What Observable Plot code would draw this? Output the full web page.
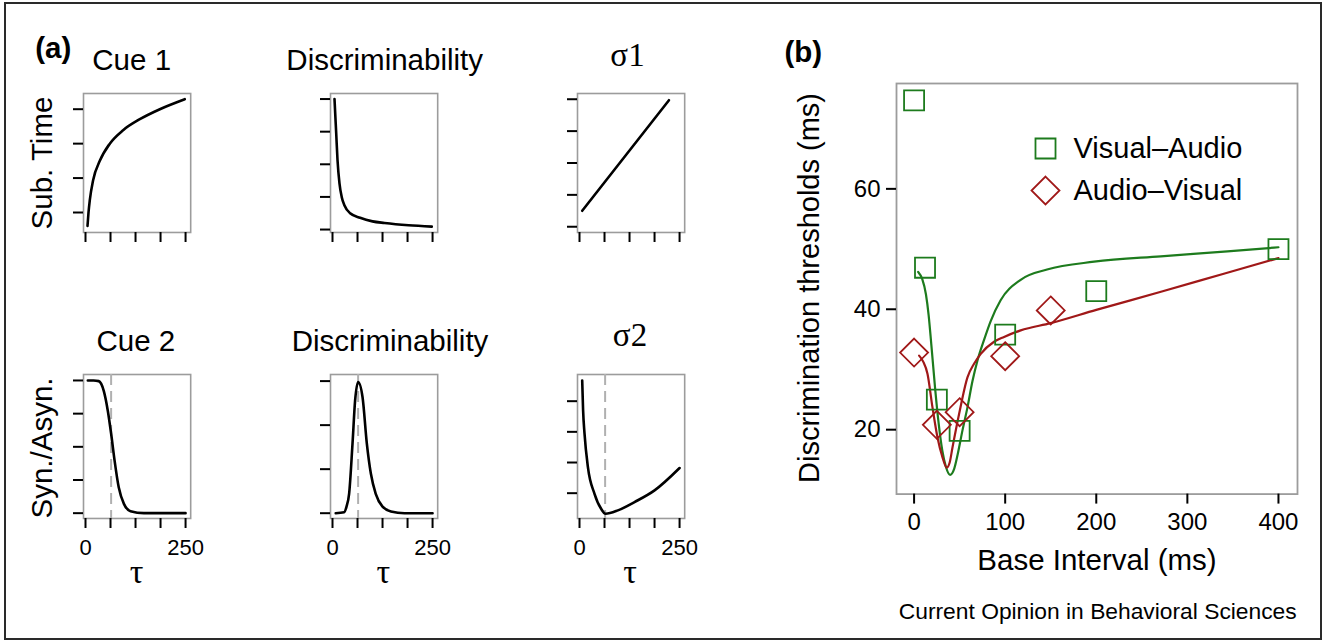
<!DOCTYPE html>
<html>
<head>
<meta charset="utf-8">
<script src="https://cdn.jsdelivr.net/npm/d3@7"></script>
<script src="https://cdn.jsdelivr.net/npm/@observablehq/plot@0.6"></script>
<style>
  body { margin: 0; background: #fff; }
  #fig { position: relative; width: 1330px; height: 641px; overflow: hidden; background: #fff;
         font-family: "Liberation Sans", Arial, Helvetica, sans-serif; color: #000; }
  .lbl { position: absolute; white-space: nowrap; line-height: 1; }
  #border { position: absolute; left: 4px; top: 2px; width: 1318px; height: 638px; box-sizing: border-box;
            border: 2px solid #2a2a2a; }
</style>
</head>
<body>
<div id="fig"><div id="border"></div></div>
<script>
// ---------------- DATA ----------------
// Panel (a): x axis (tau) ticks shared by all six small panels
const tauTicks = [0, 62.5, 125, 187.5, 250];
const tauTickLabels = ["0", "", "", "", "250"];
const tauStar = [64]; // dashed reference line in the bottom row

// Cue 1 : subjective time
const cue1Tau = [5, 7.5, 10.75, 19, 35.75, 60.75, 94, 135.75, 185.75, 248];
const cue1Val = [0.61, 1.0, 1.36, 1.94, 2.5, 3.0, 3.39, 3.71, 4.0, 4.29];
const cue1Ticks = [1, 2, 3, 4];

// Discriminability (top)
const disc1Tau = [5, 7, 9.25, 12.5, 17.5, 23, 30, 44, 69, 100, 130, 190, 248];
const disc1Val = [4.0, 3.5, 2.95, 2.13, 1.41, 1.0, 0.74, 0.5, 0.36, 0.25, 0.2, 0.13, 0.09];
const disc1Ticks = [0, 1, 2, 3, 4];

// sigma 1
const sig1Tau = [6.75, 223.5];
const sig1Val = [0.5, 3.97];
const sig1Ticks = [0, 1, 2, 3, 4];

// Cue 2 : synchrony / asynchrony
const cue2Tau = [5.8, 20, 33, 45.8, 55.8, 64, 72.5, 83, 96, 112.5, 146, 200, 250];
const cue2Val = [1.0, 1.0, 0.995, 0.92, 0.77, 0.6, 0.4, 0.195, 0.07, 0.015, 0.0, 0.0, 0.0];
const cue2Ticks = [0, 0.25, 0.5, 0.75, 1];

// Discriminability (bottom)
const disc2Tau = [8, 29, 35, 41.5, 50, 56.5, 64, 75, 85.8, 95.8, 108, 125, 146, 180, 250];
const disc2Val = [0, 0.02, 0.15, 0.44, 1.58, 2.56, 2.98, 2.64, 1.58, 0.9, 0.44, 0.15, 0.04, 0, 0];
const disc2Ticks = [0, 1, 2, 3];

// sigma 2
const sig2Tau = [6.75, 9, 12.5, 21, 37.5, 54, 65, 96, 137.5, 187.5, 250];
const sig2Val = [4.67, 3.7, 2.95, 1.85, 0.98, 0.49, 0.33, 0.44, 0.71, 1.09, 1.82];
const sig2Ticks = [1, 2, 3, 4];

// Panel (b)
const seriesNames = ["Visual\u2013Audio", "Audio\u2013Visual"];
const seriesColors = ["#1d7b1d", "#a01818"];
const seriesSymbols = ["square", "diamond2"];

const baseVA = [0, 12, 25, 50, 100, 200, 400];
const thrVA  = [74.7, 46.9, 25, 19.8, 35.8, 43, 50];
const baseAV = [0, 25, 50, 100, 150];
const thrAV  = [32.8, 20.8, 22.9, 32.2, 39.8];

const fitVAx = [4.5, 9, 13, 16, 19, 23, 27, 31, 35, 39.5, 44, 48, 53, 58.6, 64, 69.6, 77, 84, 95, 117, 146, 197.6, 270.8, 344, 400];
const fitVAy = [46.2, 45, 42.5, 39, 34, 27, 21, 16.5, 13.8, 12.5, 13.5, 16, 19.8, 23.7, 28, 31.5, 35, 38, 41.5, 44.9, 46.6, 47.9, 48.8, 49.6, 50.3];
const fitAVx = [5.5, 10, 14.7, 20.2, 25.7, 31.2, 35.9, 39, 42.1, 49.4, 58.6, 66, 73.2, 87.8, 98.8, 117, 150, 200, 271, 340, 400];
const fitAVy = [32.3, 31.3, 29.3, 23.7, 18.7, 15.4, 13.7, 14.5, 17, 22.6, 28.7, 31, 32.6, 34.6, 35.4, 36.5, 37.7, 39.9, 42.9, 45.9, 48.5];

const bXTicks = [0, 100, 200, 300, 400];
const bYTicks = [20, 40, 60];

// ---------------- LAYOUT HELPERS ----------------
const SANS = '"Liberation Sans", Arial, Helvetica, sans-serif';
const SERIF = '"Liberation Serif", "Times New Roman", serif';
const fig = document.getElementById("fig");

function place(node, left, top) {
  const wrap = document.createElement("div");
  wrap.style.position = "absolute";
  wrap.style.left = left + "px";
  wrap.style.top = top + "px";
  wrap.appendChild(node);
  fig.appendChild(wrap);
}

function label(html, x, y, opts = {}) {
  const {size = 29.5, weight = "normal", rotate = false, family = SANS, anchor = "middle"} = opts;
  const d = document.createElement("div");
  d.className = "lbl";
  d.innerHTML = html;
  d.style.left = x + "px";
  d.style.top = y + "px";
  d.style.fontSize = size + "px";
  d.style.fontWeight = weight;
  d.style.fontFamily = family;
  const tx = anchor === "end" ? "-100%" : anchor === "start" ? "0" : "-50%";
  d.style.transform = `translate(${tx},-50%)` + (rotate ? " rotate(-90deg)" : "");
  fig.appendChild(d);
}

// Text placed on a baseline (for the serif Greek letters)
function greek(letter, sub, x, baseline, size = 30) {
  const d = document.createElement("div");
  d.className = "lbl";
  d.style.fontFamily = SERIF;
  d.style.fontSize = size + "px";
  d.style.left = x + "px";
  d.style.top = (baseline - 0.8375 * size) + "px";
  d.style.transform = "translateX(-50%)";
  d.innerHTML = letter + (sub ? `<span style="font-family:${SANS};font-size:12.5px">${sub}</span>` : "");
  fig.appendChild(d);
}

const zip = (xs, ys) => xs.map((x, i) => ({x, y: ys[i]}));

// ---------------- PANEL (a) ----------------
const colX = [83.3, 330.2, 576.7];
const rowY = [93.3, 374];
const FW = 107.2;
const FH = [139, 144];
const xDom = [-5, 262.8];

function smallPanel({col, row, tau, val, yDomain, yTicks, dashed}) {
  const ml = 16, mr = 6, mt = 6, mb = 50;
  const fh = FH[row];
  const bottomRow = row === 1;
  const marks = [
    Plot.frame({stroke: "#9c9c9c", strokeWidth: 1.6}),
    Plot.axisY(yTicks, {tickSize: 10, tickFormat: () => "", label: null, stroke: "#000", strokeWidth: 2}),
    Plot.axisX(tauTicks, {
      tickSize: 10, tickPadding: 11, label: null, stroke: "#000", strokeWidth: 2, fontSize: 22,
      tickFormat: (d) => bottomRow ? tauTickLabels[tauTicks.indexOf(d)] : ""
    })
  ];
  if (dashed) marks.push(Plot.ruleX(tauStar, {stroke: "#b0b0b0", strokeWidth: 2, strokeDasharray: "11,6"}));
  marks.push(Plot.line(zip(tau, val), {x: "x", y: "y", curve: "monotone-x", stroke: "#000", strokeWidth: 2.6, clip: true}));
  const p = Plot.plot({
    width: FW + ml + mr, height: fh + mt + mb,
    marginLeft: ml, marginRight: mr, marginTop: mt, marginBottom: mb,
    x: {domain: xDom}, y: {domain: yDomain},
    style: {fontFamily: SANS, fontSize: "22px", background: "transparent", overflow: "visible", color: "#000"},
    marks
  });
  place(p, colX[col] - ml, rowY[row] - mt);
}

smallPanel({col: 0, row: 0, tau: cue1Tau, val: cue1Val, yDomain: [0.42, 4.456], yTicks: cue1Ticks});
smallPanel({col: 1, row: 0, tau: disc1Tau, val: disc1Val, yDomain: [-0.09, 4.17], yTicks: disc1Ticks});
smallPanel({col: 2, row: 0, tau: sig1Tau, val: sig1Val, yDomain: [-0.18, 4.18], yTicks: sig1Ticks});
smallPanel({col: 0, row: 1, tau: cue2Tau, val: cue2Val, yDomain: [-0.04, 1.045], yTicks: cue2Ticks, dashed: true});
smallPanel({col: 1, row: 1, tau: disc2Tau, val: disc2Val, yDomain: [-0.12, 3.15], yTicks: disc2Ticks, dashed: true});
smallPanel({col: 2, row: 1, tau: sig2Tau, val: sig2Val, yDomain: [0.175, 4.87], yTicks: sig2Ticks, dashed: true});

// Panel (a) text
label("(a)", 53.3, 48.3, {weight: "bold", size: 29.5});
label("Cue 1", 131.7, 60);
label("Discriminability", 384.7, 60);
greek("\u03c3", "1", 627.5, 66.7, 33);
label("Cue 2", 135.8, 340.8);
label("Discriminability", 390, 340.8);
greek("\u03c3", "2", 630, 346.7, 33);
label("Sub. Time", 41.7, 162.5, {rotate: true});
label("Syn./Asyn.", 41.7, 448.3, {rotate: true});
greek("\u03c4", "", 136.7, 583, 34);
greek("\u03c4", "", 383.3, 583, 34);
greek("\u03c4", "", 630, 583, 34);

// ---------------- PANEL (b) ----------------
{
  const ml = 60, mr = 10, mt = 10, mb = 50;
  const fl = 895.7, fr = 1296.7, ft = 82.7, fb = 493.3;
  const color = {domain: seriesNames, range: seriesColors};
  const symbol = {domain: seriesNames, range: seriesSymbols};
  const ptsVA = baseVA.map((b, i) => ({b, t: thrVA[i], s: seriesNames[0]}));
  const ptsAV = baseAV.map((b, i) => ({b, t: thrAV[i], s: seriesNames[1]}));
  const fits = [
    ...fitVAx.map((b, i) => ({b, t: fitVAy[i], s: seriesNames[0]})),
    ...fitAVx.map((b, i) => ({b, t: fitAVy[i], s: seriesNames[1]}))
  ];
  const p = Plot.plot({
    width: (fr - fl) + ml + mr, height: (fb - ft) + mt + mb,
    marginLeft: ml, marginRight: mr, marginTop: mt, marginBottom: mb,
    x: {domain: [-19.3, 420.9]},
    y: {domain: [9.3, 77.5]},
    color, symbol,
    style: {fontFamily: SANS, fontSize: "24px", background: "transparent", overflow: "visible", color: "#000"},
    marks: [
      Plot.frame({stroke: "#9c9c9c", strokeWidth: 1.8}),
      Plot.axisY(bYTicks, {tickSize: 10, tickPadding: 6, label: null, stroke: "#000", strokeWidth: 2, fontSize: 24}),
      Plot.axisX(bXTicks, {tickSize: 10, tickPadding: 9, label: null, stroke: "#000", strokeWidth: 2, fontSize: 24}),
      Plot.line(fits, {x: "b", y: "t", z: "s", stroke: "s", curve: "monotone-x", strokeWidth: 2.2}),
      Plot.dot(ptsVA, {x: "b", y: "t", stroke: "s", symbol: "s", r: 11.3, strokeWidth: 1.8, fill: "none"}),
      Plot.dot(ptsAV, {x: "b", y: "t", stroke: "s", symbol: "s", r: 12.6, strokeWidth: 1.8, fill: "none"})
    ]
  });
  place(p, fl - ml, ft - mt);

  // Legend (its own tiny plot, positioned with the panel)
  const lg = Plot.plot({
    width: 280, height: 80, marginLeft: 20, marginRight: 0, marginTop: 20, marginBottom: 17.3,
    y: {domain: seriesNames, padding: 0, axis: null},
    color, symbol,
    style: {fontFamily: SANS, fontSize: "29px", background: "transparent", overflow: "visible", color: "#000"},
    marks: [
      Plot.dot(seriesNames.slice(0, 1), {y: (d) => d, frameAnchor: "left", stroke: (d) => d, symbol: (d) => d,
        r: 11.3, strokeWidth: 1.8, fill: "none"}),
      Plot.dot(seriesNames.slice(1), {y: (d) => d, frameAnchor: "left", stroke: (d) => d, symbol: (d) => d,
        r: 12.6, strokeWidth: 1.8, fill: "none"}),
      Plot.text(seriesNames, {y: (d) => d, text: (d) => d, frameAnchor: "left", dx: 28, textAnchor: "start", fill: "#000", fontSize: 29})
    ]
  });
  place(lg, 1045.3 - 20, 148.3 - 20);
}

label("(b)", 803.3, 51.7, {weight: "bold", size: 29.5});
label("Discrimination thresholds (ms)", 809.3, 287.5, {rotate: true, size: 29});
label("Base Interval (ms)", 1097, 560, {size: 29.5});
label("Current Opinion in Behavioral Sciences", 1296.7, 610.7, {size: 22.8, anchor: "end"});
</script>
</body>
</html>
